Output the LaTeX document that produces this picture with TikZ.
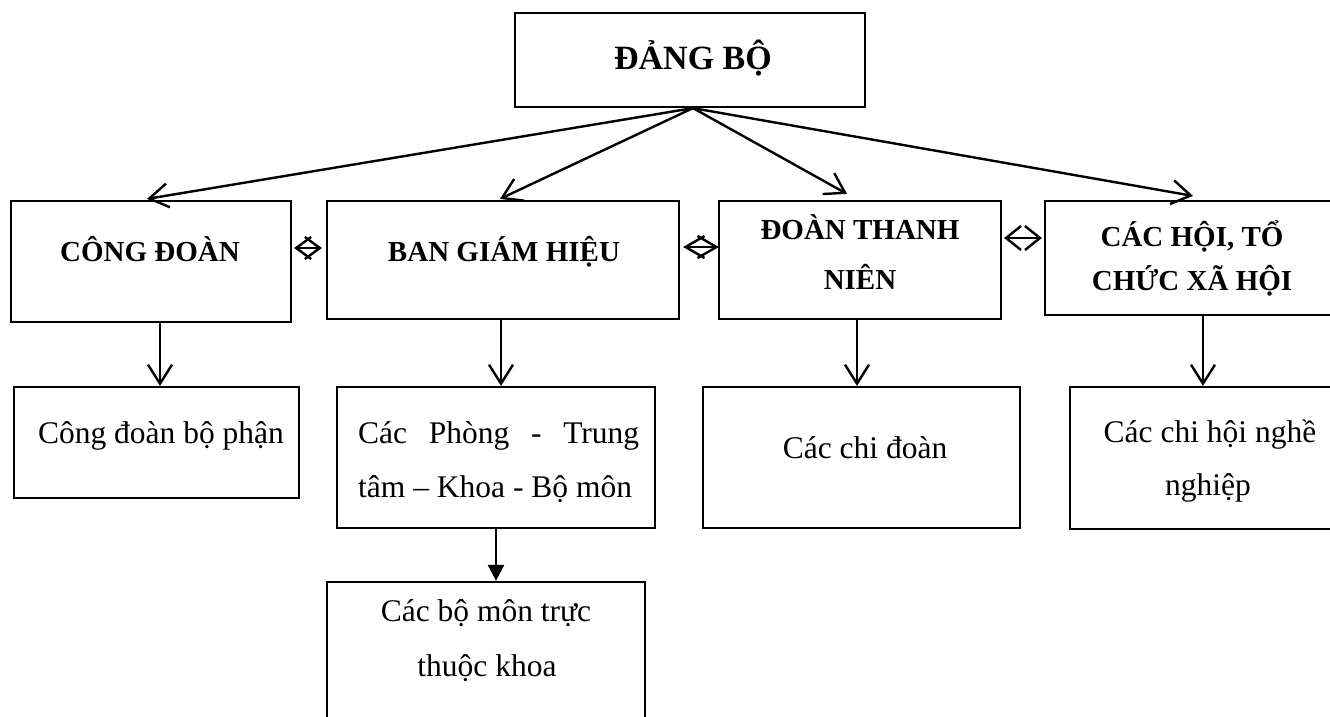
\documentclass[tikz,border=0pt]{standalone}
\usepackage{fontspec}
\setmainfont{Liberation Serif}
\usetikzlibrary{arrows.meta,calc}
\begin{document}
\begin{tikzpicture}[x=1pt,y=-1pt,
  box/.style={draw,line width=2.2pt,rectangle,inner sep=0pt},
  btxt/.style={anchor=base,inner sep=0pt,font=\fontsize{29pt}{50pt}\selectfont\bfseries},
  rtxt/.style={anchor=base,inner sep=0pt,font=\fontsize{31.5pt}{54pt}\selectfont},
  arr/.style={line width=2.4pt,-{Straight Barb[length=19pt,width=24pt,line width=2.4pt]}},
  farr/.style={line width=2.4pt,-{Triangle[length=16pt,width=16pt]}},
  dblA/.style={line width=2.4pt,{Straight Barb[length=15pt,width=22pt,line width=2.4pt]}-{Straight Barb[length=15pt,width=22pt,line width=2.4pt]}},
  dblB/.style={line width=2.4pt,{Straight Barb[length=19pt,width=22pt,line width=2.4pt]}-{Straight Barb[length=19pt,width=22pt,line width=2.4pt]}},
  dblC/.style={line width=2.4pt,{Straight Barb[length=15pt,width=24pt,line width=2.4pt]}-{Straight Barb[length=15pt,width=24pt,line width=2.4pt]}}
]
\clip (0,0) rectangle (1330,716);
\fill[white] (0,0) rectangle (1330,716);

% boxes
\node[box,minimum width=350pt,minimum height=94pt] (top) at (690,60) {};
\node[box,minimum width=280pt,minimum height=121pt] (cd) at (151,261.5) {};
\node[box,minimum width=352pt,minimum height=118pt] (bgh) at (503,260) {};
\node[box,minimum width=282pt,minimum height=118pt] (dtn) at (860,260) {};
\node[box,minimum width=316pt,minimum height=114pt] (hoi) at (1203,258) {};
\node[box,minimum width=285pt,minimum height=111pt] (cdbp) at (156.5,442.5) {};
\node[box,minimum width=318pt,minimum height=141pt] (phong) at (496,457.5) {};
\node[box,minimum width=317pt,minimum height=141pt] (chidoan) at (861.5,457.5) {};
\node[box,minimum width=280pt,minimum height=142pt] (chihoi) at (1210,458) {};
\node[box,minimum width=318pt,minimum height=178pt] (bomon) at (486,671) {};

% texts
\node[btxt,font=\fontsize{34pt}{40pt}\selectfont\bfseries] (t0) at (693,69) {ĐẢNG BỘ};
\node[btxt] (t1) at (150,261) {CÔNG ĐOÀN};
\node[btxt] (t2) at (504,261) {BAN GIÁM HIỆU};
\node[btxt] (t3a) at (860,239) {ĐOÀN THANH};
\node[btxt] (t3b) at (860,289) {NIÊN};
\node[btxt] (t4a) at (1192,246) {CÁC HỘI, TỔ};
\node[btxt] (t4b) at (1192,290) {CHỨC XÃ HỘI};
\node[rtxt] (t5) at (161,443) {Công đoàn bộ phận};
\node[rtxt,anchor=base west] (t6a) at (358,443) {\makebox[281pt][s]{Các Phòng - Trung}};
\node[rtxt,anchor=base west] (t6b) at (358,497) {tâm – Khoa - Bộ môn};
\node[rtxt] (t7) at (865,458) {Các chi đoàn};
\node[rtxt] (t8a) at (1210,442) {Các chi hội nghề};
\node[rtxt] (t8b) at (1208,495) {nghiệp};
\node[rtxt] (t9a) at (486,621) {Các bộ môn trực};
\node[rtxt] (t9b) at (487,676) {thuộc khoa};

% arrows from top
\draw[arr] ([xshift=3pt]top.south) -- ([xshift=-4pt,yshift=1pt]cd.north);
\draw[arr] ([xshift=3pt]top.south) -- ([xshift=-3pt,yshift=1pt]bgh.north);
\draw[arr] ([xshift=3pt]top.south) -- ([xshift=-13pt,yshift=6pt]dtn.north);
\draw[arr] ([xshift=3pt]top.south) -- ([xshift=-10pt,yshift=4pt]hoi.north);

% vertical arrows
\draw[arr] ([xshift=9pt]cd.south) -- ($(cd.south |- cdbp.north)+(9,0)$);
\draw[arr] ([xshift=-2pt]bgh.south) -- ($(bgh.south |- phong.north)+(-2,0)$);
\draw[arr] ([xshift=-3pt]dtn.south) -- ($(dtn.south |- chidoan.north)+(-3,0)$);
\draw[arr] (hoi.south) -- (hoi.south |- chihoi.north);
\draw[farr] (phong.south) -- (phong.south |- bomon.north);

% double arrows
\draw[dblA] ($(cd.east)+(2,-13.5)$) -- ($(bgh.west)+(-4,-12)$);
\draw[dblB] ($(bgh.east)+(3,-13)$) -- ($(dtn.west)+(1,-13)$);
\draw[dblC] ($(dtn.east)+(2,-22)$) -- ($(hoi.west)+(-2,-20)$);
\end{tikzpicture}
\end{document}
